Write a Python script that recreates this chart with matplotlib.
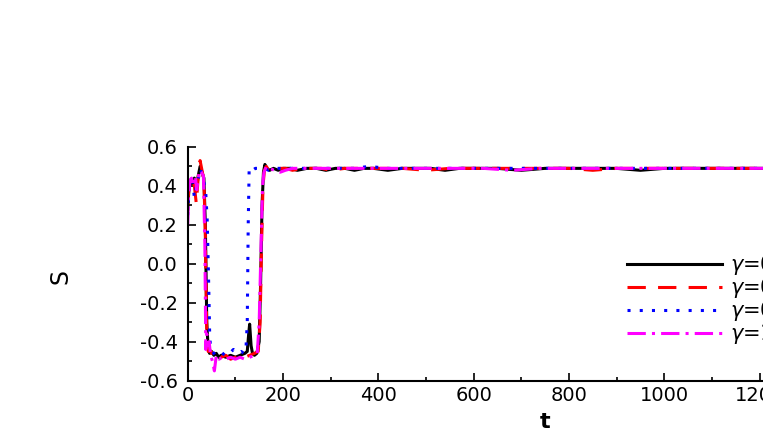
import numpy as np
import matplotlib
matplotlib.use('Agg')
import matplotlib.pyplot as plt
from matplotlib.ticker import MultipleLocator

matplotlib.rcParams['font.family'] = 'DejaVu Sans'
matplotlib.rcParams['mathtext.fontset'] = 'dejavusans'

# values
t_blk = [0, 3, 6, 10, 14, 18, 22, 26, 30, 34, 37, 40, 43, 46, 50, 55, 60, 65, 70,
         80, 90, 100, 110, 120, 125, 128, 130, 133, 136, 140, 145, 150, 153, 156,
         159, 162, 166, 172, 180, 190, 200, 215, 230, 250, 270, 290, 310, 330,
         350, 370, 390, 420, 450, 480, 510, 540, 570, 600, 650, 700, 750, 800,
         850, 900, 950, 1000, 1050, 1100, 1150, 1200, 1250, 1300, 1500]
S_blk = [0.28, 0.40, 0.43, 0.41, 0.44, 0.38, 0.45, 0.50, 0.47, 0.44, 0.20, -0.30,
         -0.44, -0.46, -0.45, -0.47, -0.46, -0.48, -0.47, -0.48, -0.47, -0.48,
         -0.47, -0.46, -0.45, -0.36, -0.31, -0.42, -0.46, -0.47, -0.46, -0.40,
         -0.10, 0.30, 0.47, 0.51, 0.49, 0.48, 0.49, 0.48, 0.49, 0.49, 0.48, 0.49,
         0.49, 0.48, 0.49, 0.49, 0.48, 0.49, 0.49, 0.48, 0.49, 0.49, 0.49, 0.48,
         0.49, 0.49, 0.49, 0.48, 0.49, 0.49, 0.49, 0.49, 0.48, 0.49, 0.49, 0.49,
         0.49, 0.49, 0.49, 0.49, 0.49]

t_red = [0, 3, 6, 10, 14, 18, 22, 26, 30, 34, 37, 40, 43, 46, 50, 55, 60, 65, 70,
         80, 90, 100, 110, 120, 130, 140, 148, 152, 155, 158, 161, 165, 170, 178,
         186, 195, 205, 220, 240, 260, 280, 300, 330, 360, 400, 450, 500, 550,
         600, 650, 700, 750, 800, 850, 900, 950, 1000, 1050, 1100, 1150, 1200,
         1300, 1500]
S_red = [0.30, 0.41, 0.43, 0.42, 0.40, 0.31, 0.44, 0.53, 0.48, 0.43, 0.15, -0.35,
         -0.45, -0.44, -0.46, -0.45, -0.47, -0.46, -0.48, -0.47, -0.49, -0.48,
         -0.49, -0.48, -0.47, -0.46, -0.45, -0.30, 0.10, 0.40, 0.48, 0.50, 0.48,
         0.49, 0.48, 0.49, 0.49, 0.48, 0.49, 0.49, 0.49, 0.48, 0.49, 0.49, 0.49,
         0.49, 0.48, 0.49, 0.49, 0.49, 0.49, 0.49, 0.49, 0.48, 0.49, 0.49, 0.49,
         0.49, 0.49, 0.49, 0.49, 0.49, 0.49]

t_blu = [0, 3, 6, 10, 14, 18, 22, 26, 30, 34, 38, 41, 44, 46, 48, 52, 58, 65, 72,
         80, 88, 96, 104, 112, 118, 122, 125, 127, 129, 132, 136, 142, 150, 160,
         170, 180, 195, 210, 230, 260, 290, 320, 350, 380, 420, 460, 500, 560,
         620, 680, 740, 800, 860, 920, 980, 1040, 1100, 1160, 1220, 1300, 1500]
S_blu = [0.25, 0.40, 0.42, 0.43, 0.34, 0.40, 0.43, 0.49, 0.46, 0.42, 0.36, 0.22,
         -0.10, -0.35, -0.44, -0.45, -0.47, -0.46, -0.47, -0.45, -0.46, -0.44,
         -0.46, -0.45, -0.46, -0.45, -0.30, 0.20, 0.49, 0.49, 0.48, 0.49, 0.49,
         0.49, 0.48, 0.49, 0.49, 0.49, 0.49, 0.49, 0.49, 0.49, 0.49, 0.50, 0.49,
         0.49, 0.49, 0.49, 0.49, 0.49, 0.49, 0.49, 0.49, 0.49, 0.49, 0.49, 0.49,
         0.49, 0.49, 0.49, 0.49]

t_mag = [0, 2, 5, 8, 12, 16, 19, 22, 25, 29, 33, 36, 38, 40, 42, 45, 48, 52, 56,
         60, 66, 72, 80, 90, 100, 110, 120, 130, 140, 146, 150, 154, 157, 160,
         165, 172, 182, 194, 205, 220, 240, 260, 290, 320, 360, 400, 450, 500,
         560, 620, 680, 740, 800, 860, 920, 980, 1040, 1100, 1160, 1220, 1300,
         1500]
S_mag = [0.20, 0.35, 0.43, 0.44, 0.40, 0.45, 0.38, 0.44, 0.48, 0.47, 0.45, 0.10,
         -0.44, -0.36, -0.42, -0.40, -0.47, -0.50, -0.55, -0.47, -0.49, -0.48,
         -0.49, -0.48, -0.49, -0.48, -0.49, -0.48, -0.47, -0.46, -0.30, 0.10,
         0.40, 0.47, 0.50, 0.49, 0.48, 0.47, 0.48, 0.49, 0.49, 0.49, 0.49, 0.49,
         0.49, 0.49, 0.49, 0.49, 0.49, 0.49, 0.48, 0.49, 0.49, 0.49, 0.49, 0.49,
         0.49, 0.49, 0.49, 0.49, 0.49, 0.49]

labels = [r"$\gamma$=0.0", r"$\gamma$=0.1", r"$\gamma$=0.5", r"$\gamma$=1.0"]
yticks = [-0.6, -0.4, -0.2, 0.0, 0.2, 0.4, 0.6]

fig = plt.figure(figsize=(7.63, 4.36), dpi=100)
# axes runs past the right edge of the figure, as in the reference
ax = fig.add_axes([0.246, 0.127, 0.9368, 0.536])

ax.plot(t_blk, S_blk, "-", color="black", linewidth=2.2, label=labels[0])
ax.plot(t_red, S_red, "--", color="#ff0000", linewidth=2.2,
        dashes=(6, 4), label=labels[1])
ax.plot(t_blu, S_blu, ":", color="#0000ff", linewidth=2.2,
        dashes=(1, 3), label=labels[2])
ax.plot(t_mag, S_mag, "-.", color="#ff00ff", linewidth=2.2,
        dashes=(6, 2, 1, 2), label=labels[3])

ax.set_xlim(0, 1500)
ax.set_ylim(-0.6, 0.6)
ax.spines['top'].set_visible(False)
ax.spines['right'].set_visible(False)
ax.spines['left'].set_linewidth(1.5)
ax.spines['bottom'].set_linewidth(1.5)

ax.xaxis.set_major_locator(MultipleLocator(200))
ax.xaxis.set_minor_locator(MultipleLocator(100))
ax.yaxis.set_minor_locator(MultipleLocator(0.1))
ax.set_yticks(yticks)
ax.set_yticklabels(["%.1f" % v for v in yticks])
ax.tick_params(which='both', direction='in', width=1.2, labelsize=14,
               top=False, right=False)
ax.tick_params(which='major', length=6)
ax.tick_params(which='minor', length=3)
ax.tick_params(axis='y', which='major', pad=7)
ax.tick_params(axis='x', which='major', pad=4)

ax.set_xlabel("t", fontsize=16, fontweight="bold")
ax.set_ylabel("S", fontsize=17)
ax.xaxis.set_label_coords(0.5, -0.135)
ax.yaxis.set_label_coords(-0.1605, 0.447)

ax.legend(loc="upper left", bbox_to_anchor=(627 / 763, 1 - 253 / 436),
          bbox_transform=fig.transFigure, frameon=False, fontsize=15,
          handlelength=4.56, handletextpad=0.38, labelspacing=-0.05,
          borderpad=0, borderaxespad=0)

fig.savefig("out.png", dpi=100)
